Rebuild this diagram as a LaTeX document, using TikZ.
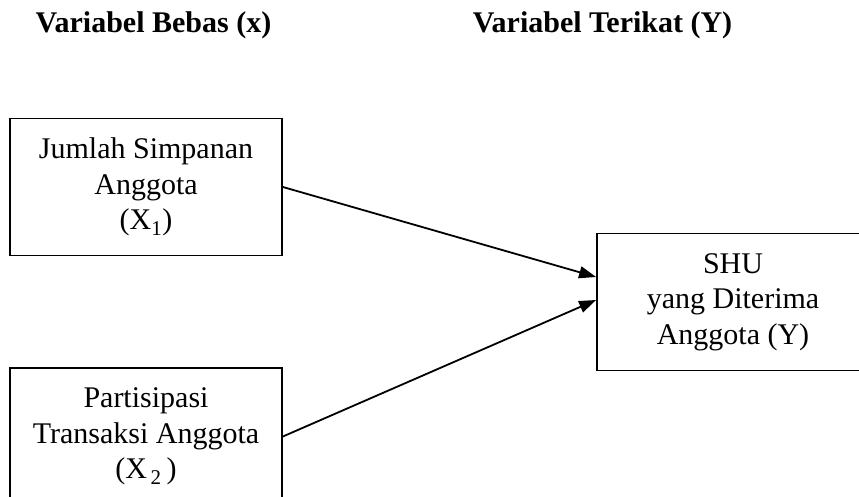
\documentclass[tikz,border=0pt]{standalone}
\usepackage{fontspec}
\setmainfont{Liberation Serif}
\usetikzlibrary{arrows.meta}

\tikzset{
  varbox/.style={draw, line width=1.8pt, minimum width=272pt, minimum height=137pt,
    inner sep=0pt, align=center, font=\fontsize{30}{35.5}\selectfont},
  judul/.style={anchor=base, font=\fontsize{30}{36}\selectfont\bfseries},
  panah/.style={-{Triangle[length=17pt, width=12pt]}, line width=1.8pt}
}

\begin{document}
\begin{tikzpicture}[x=1pt, y=-1pt]
    \useasboundingbox (0,0) rectangle (859,497);
    \clip (0,0) rectangle (859,497)
    (153.5,33) node[judul] (bebas) {Variabel Bebas (x)}
    (602.5,33) node[judul] (terikat) {Variabel Terikat (Y)}
    (146,187) node[varbox] (x1) {Jumlah Simpanan\\Anggota\\(X$_{\mathrm{1}}$)}
    (146,436.5) node[varbox] (x2) {Partisipasi\\Transaksi Anggota\\(X$_{\,\mathrm{2}}$\,)}
    (733,302) node[varbox] (y) {SHU\\yang Diterima\\Anggota (Y)};

    \draw[panah] (x1.east) -- ([yshift=25pt]y.west);
    \draw[panah] (x2.east) -- ([yshift=2pt]y.west);

  \end{tikzpicture}
\end{document}
